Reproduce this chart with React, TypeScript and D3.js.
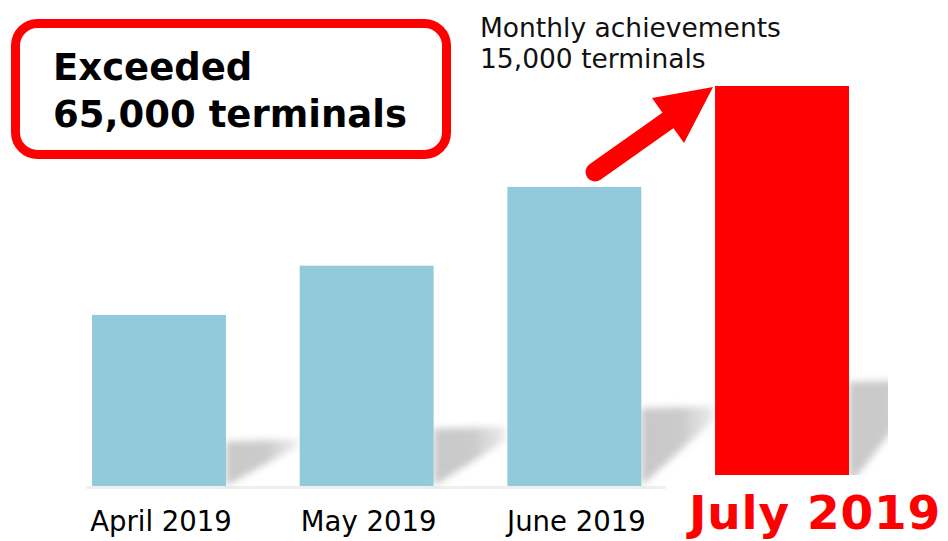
import React from "react";
import * as d3 from "d3";

const categories = ["April 2019", "May 2019", "June 2019", "July 2019"];
const values = [27800, 35800, 48600, 65000];
const highlight = [false, false, false, true];
const titleLines = ["Exceeded", "65,000 terminals"];
const noteLines = ["Monthly achievements", "15,000 terminals"];

const W = 948;
const H = 541;

export default function App() {
  const base = 486;
  const x = d3.scaleBand<string>().domain(categories).range([92, 849]).paddingInner(0.355).paddingOuter(0);
  const y = d3.scaleLinear().domain([0, 65000]).range([base, 86]);
  const bw = x.bandwidth();

  const shadowPath = (cat: string, v: number) => {
    const xr = (x(cat) as number) + bw;
    const h = base - y(v);
    const hs = h * 0.26;
    const sw = 72;
    const p = d3.path();
    p.moveTo(xr, base - hs);
    p.lineTo(xr + sw, base - hs - 2);
    p.lineTo(xr + sw, Math.min(base - hs + 12, base - 40));
    p.lineTo(xr, base);
    p.closePath();
    return p.toString();
  };

  const julyX = x(categories[3]) as number;
  const julyTop = y(values[3]);

  return (
    <svg width={W} height={H} style={{ position: "absolute", left: 0, top: 0, background: "#fff" }}>
      <defs>
        <filter id="blur" x="-20%" y="-20%" width="140%" height="140%">
          <feGaussianBlur stdDeviation="3.5" />
        </filter>
        <linearGradient id="shadeGrad" x1="0" y1="0" x2="1" y2="0">
          <stop offset="0" stopColor="#c8c8c8" />
          <stop offset="0.55" stopColor="#cbcbcb" />
          <stop offset="1" stopColor="#ececec" />
        </linearGradient>
        <clipPath id="clipShadow">
          <rect x={0} y={0} width={888} height={H} />
        </clipPath>
      </defs>
      <rect x={0} y={0} width={W} height={H} fill="#fff" />
      {/* floor line */}
      <rect x={86} y={base} width={580} height={3} fill="#efefef" />
      {/* shadows */}
      <g clipPath="url(#clipShadow)">
        <g filter="url(#blur)">
          {categories.map((c, i) => (
            <path key={c} d={shadowPath(c, values[i])} fill="url(#shadeGrad)" />
          ))}
        </g>
      </g>
      {/* bars */}
      {categories.map((c, i) => (
        <rect
          key={c}
          x={x(c) as number}
          y={y(values[i])}
          width={bw}
          height={base - y(values[i])}
          fill={highlight[i] ? "#ff0000" : "#93cadb"}
        />
      ))}
      {/* white backdrop behind July label */}
      <rect x={667} y={475} width={W - 667} height={H - 475} fill="#fff" />
      {/* category labels */}
      {categories.map((c, i) =>
        highlight[i] ? (
          <text
            key={c}
            x={689}
            y={529}
            textAnchor="start"
            fontFamily="DejaVu Sans, Verdana, sans-serif"
            fontWeight="bold"
            fontSize={47}
            letterSpacing={0.8}
            fill="#ff0000"
          >
            {c}
          </text>
        ) : (
          <text
            key={c}
            x={(x(c) as number) + bw / 2 + 2}
            y={531}
            textAnchor="middle"
            fontFamily="DejaVu Sans, Verdana, sans-serif"
            fontSize={27.5}
            fill="#000"
          >
            {c}
          </text>
        )
      )}
      {/* title box */}
      <rect x={15.5} y={23.5} width={431} height={131} rx={22} ry={22} fill="#fff" stroke="#ff0000" strokeWidth={9} />
      {titleLines.map((t, i) => (
        <text
          key={t}
          x={53}
          y={80 + i * 47}
          fontFamily="DejaVu Sans, Verdana, sans-serif"
          fontWeight="bold"
          fontSize={37}
          fill="#000"
        >
          {t}
        </text>
      ))}
      {/* note */}
      {noteLines.map((t, i) => (
        <text
          key={t}
          x={480}
          y={37 + i * 31}
          fontFamily="DejaVu Sans, Verdana, sans-serif"
          fontSize={26.5}
          fill="#111"
        >
          {t}
        </text>
      ))}
      {/* arrow */}
      <line x1={595} y1={172} x2={670} y2={119} stroke="#ff0000" strokeWidth={19} strokeLinecap="round" />
      <path d={`M652,98 L${julyX - 2},${julyTop + 1} L684,143 Z`} fill="#ff0000" />
    </svg>
  );
}
